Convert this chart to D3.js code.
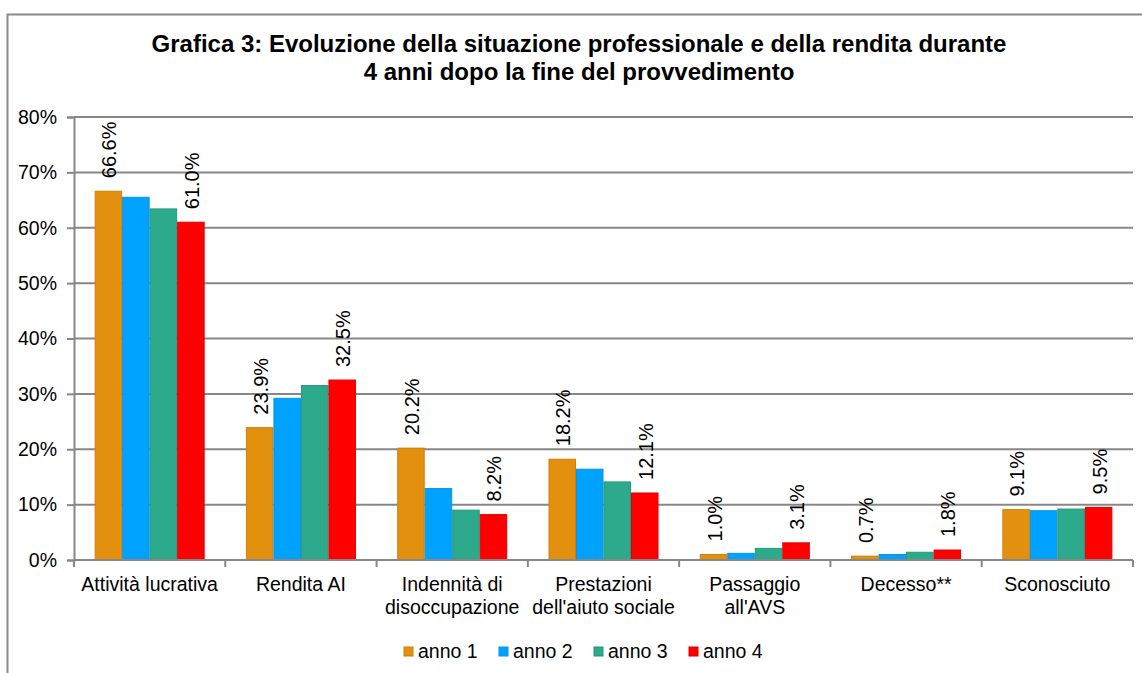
<!DOCTYPE html>
<html>
<head>
<meta charset="utf-8">
<script src="https://cdn.jsdelivr.net/npm/d3@7"></script>
<style>
  body { margin: 0; background: #fff; }
  svg { display: block; font-family: Arial, "Liberation Sans", sans-serif; }
</style>
</head>
<body>
<svg id="chart" width="1142" height="673"></svg>
<script>
// categories and series (percent)
const categories = [
  "Attività lucrativa",
  "Rendita AI",
  "Indennità di\ndisoccupazione",
  "Prestazioni\ndell'aiuto sociale",
  "Passaggio\nall'AVS",
  "Decesso**",
  "Sconosciuto"
];
const seriesNames = ["anno 1", "anno 2", "anno 3", "anno 4"];
const anno1 = [66.6, 23.9, 20.2, 18.2, 1.0, 0.7, 9.1];
const anno2 = [65.5, 29.2, 12.9, 16.4, 1.2, 1.0, 8.9];
const anno3 = [63.4, 31.5, 9.0, 14.1, 2.1, 1.4, 9.2];
const anno4 = [61.0, 32.5, 8.2, 12.1, 3.1, 1.8, 9.5];
const yTicks = [0, 10, 20, 30, 40, 50, 60, 70, 80];
const labelled = ["anno 1", "anno 4"];

const colors = ["#E3900F", "#00A2FF", "#2DA98B", "#FF0000"];
const strokes = ["#D08008", "#0A94E0", "#24977A", "#E00000"];

const seriesValues = [anno1, anno2, anno3, anno4];
const rows = categories.map((c, i) => ({
  cat: c,
  vals: seriesNames.map((s, j) => ({ s: s, j: j, v: seriesValues[j][i] }))
}));

const svg = d3.select("#chart");
const plotLeft = 74, plotRight = 1133, plotTop = 117, plotBottom = 560;
const fs = 19.5;

// frame around the chart area (open to the right and bottom like the source)
svg.append("rect")
  .attr("x", 7.5).attr("y", 14.5)
  .attr("width", 1200).attr("height", 800)
  .attr("fill", "none")
  .attr("stroke", "#8a8a8a")
  .attr("stroke-width", 2)

svg.append("text")
  .attr("x", 579).attr("y", 52)
  .attr("text-anchor", "middle")
  .attr("font-size", 24).attr("font-weight", "bold")
  .text("Grafica 3: Evoluzione della situazione professionale e della rendita durante")
svg.append("text")
  .attr("x", 579).attr("y", 80)
  .attr("text-anchor", "middle")
  .attr("font-size", 24).attr("font-weight", "bold")
  .text("4 anni dopo la fine del provvedimento")

const y = d3.scaleLinear().domain([0, 80]).range([plotBottom, plotTop]);
const xc = d3.scaleBand().domain(categories).range([plotLeft, plotRight]).padding(0);
const x1 = d3.scaleBand().domain(seriesNames).range([0, xc.bandwidth()])
  .paddingInner(0).paddingOuter(0.75);

// gridlines
svg.append("g")
  .selectAll("line")
  .data(yTicks.filter(d => d > 0))
  .enter().append("line")
  .attr("x1", plotLeft).attr("x2", plotRight)
  .attr("y1", d => y(d)).attr("y2", d => y(d))
  .attr("stroke", "#878787").attr("stroke-width", 2)

// y axis
const yAxis = svg.append("g")
  .attr("transform", `translate(${plotLeft},0)`)
  .call(d3.axisLeft(y).tickValues(yTicks).tickFormat(d => d + "%").tickSizeOuter(0).tickSize(7).tickPadding(10))
yAxis.select(".domain").attr("stroke", "#878787").attr("stroke-width", 2)
yAxis.selectAll(".tick line").attr("stroke", "#878787").attr("stroke-width", 2)
yAxis.selectAll(".tick text")
  .attr("font-size", fs).attr("fill", "#000")
  .attr("font-family", "Arial, 'Liberation Sans', sans-serif")

// bars
const groups = svg.append("g")
  .selectAll("g")
  .data(rows)
  .enter().append("g")
  .attr("transform", d => `translate(${xc(d.cat)},0)`)

groups.selectAll("rect")
  .data(d => d.vals)
  .enter().append("rect")
  .attr("x", d => x1(d.s) + 0.5)
  .attr("width", x1.bandwidth() - 1)
  .attr("y", d => y(d.v))
  .attr("height", d => y(0) - y(d.v))
  .attr("fill", d => colors[d.j])
  .attr("stroke", d => strokes[d.j])
  .attr("stroke-width", 1)

// value labels, rotated
groups.selectAll("text")
  .data(d => d.vals.filter(v => labelled.includes(v.s)))
  .enter().append("text")
  .attr("transform", d => `translate(${x1(d.s) + x1.bandwidth() / 2 + 1},${y(d.v) - 13}) rotate(-90)`)
  .attr("dy", "0.35em")
  .attr("font-size", 20)
  .attr("fill", "#000")
  .text(d => d3.format(".1f")(d.v) + "%")

// x axis line and boundary ticks
svg.append("line")
  .attr("x1", plotLeft).attr("x2", plotRight)
  .attr("y1", plotBottom).attr("y2", plotBottom)
  .attr("stroke", "#878787").attr("stroke-width", 2)
svg.append("g")
  .selectAll("line")
  .data(categories.map(c => xc(c)).concat([plotRight]))
  .enter().append("line")
  .attr("x1", d => d).attr("x2", d => d)
  .attr("y1", plotBottom).attr("y2", plotBottom + 7)
  .attr("stroke", "#878787").attr("stroke-width", 2)

// category labels
const catLabels = svg.append("g")
  .selectAll("text")
  .data(categories)
  .enter().append("text")
  .attr("x", d => xc(d) + xc.bandwidth() / 2)
  .attr("y", 591)
  .attr("text-anchor", "middle")
  .attr("font-size", fs)
  .attr("fill", "#000")
catLabels.selectAll("tspan")
  .data(d => d.split("\n"))
  .enter().append("tspan")
  .attr("x", function() { return d3.select(this.parentNode).attr("x"); })
  .attr("dy", (d, i) => i === 0 ? 0 : 23)
  .text(d => d)

// legend
const legend = svg.append("g")
  .selectAll("g")
  .data(seriesNames)
  .enter().append("g")
  .attr("transform", (d, i) => `translate(${404 + i * 95},647)`)
legend.append("rect")
  .attr("width", 9).attr("height", 9)
  .attr("fill", (d, i) => colors[i])
  .attr("stroke", (d, i) => strokes[i])
legend.append("text")
  .attr("x", 14).attr("y", 11)
  .attr("font-size", fs)
  .attr("fill", "#000")
  .text(d => d)
</script>
</body>
</html>
